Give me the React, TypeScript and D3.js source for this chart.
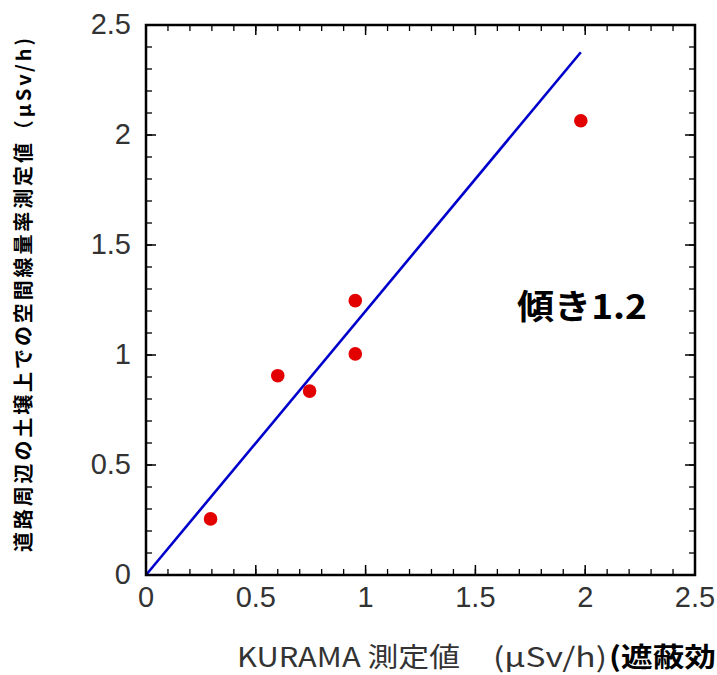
import React from "react";
import * as d3 from "d3";

// KURAMA readings vs. soil-surface dose rates (µSv/h)
const kuramaValues = [0.294, 0.6, 0.745, 0.953, 0.953, 1.98];
const soilValues = [0.255, 0.906, 0.836, 1.247, 1.005, 2.065];
const fitSlope = 1.2;
const fitRange = [0, 1.98];
const majorTicks = [0, 0.5, 1, 1.5, 2, 2.5];
const tickLabels = ["0", "0.5", "1", "1.5", "2", "2.5"];
const minorTicks = d3.range(0, 2.51, 0.1);

const W = 717;
const H = 675;
const left = 146;
const right = 695;
const top = 25;
const bottom = 575;

export default function App() {
  const x = d3.scaleLinear().domain([0, 2.5]).range([left, right]);
  const y = d3.scaleLinear().domain([0, 2.5]).range([bottom, top]);

  const fitLine = d3
    .line<number>()
    .x((d) => x(d))
    .y((d) => y(d * fitSlope));

  const tickFont = "'Liberation Sans', Arial, sans-serif";
  const cjkFont = "'Noto Sans CJK JP', 'Noto Sans', sans-serif";

  return (
    <svg
      width={W}
      height={H}
      style={{ position: "absolute", left: 0, top: 0, background: "#fff" }}
    >
      {/* regression line */}
      <path
        d={fitLine(fitRange) || ""}
        fill="none"
        stroke="#0000cc"
        strokeWidth={2.6}
      />
      {/* data points */}
      {kuramaValues.map((v, i) => (
        <circle key={i} cx={x(v)} cy={y(soilValues[i])} r={6.8} fill="#e30000" />
      ))}

      {/* minor ticks on all four sides */}
      {minorTicks.map((t, i) => (
        <g key={"m" + i} stroke="#000" strokeWidth={1.3}>
          <line x1={x(t)} x2={x(t)} y1={bottom} y2={bottom - 6} />
          <line x1={x(t)} x2={x(t)} y1={top} y2={top + 6} />
          <line x1={left} x2={left + 6} y1={y(t)} y2={y(t)} />
          <line x1={right} x2={right - 6} y1={y(t)} y2={y(t)} />
        </g>
      ))}
      {majorTicks.map((t, i) => (
        <g key={"M" + i} stroke="#000" strokeWidth={1.5}>
          <line x1={x(t)} x2={x(t)} y1={bottom} y2={bottom - 10} />
          <line x1={x(t)} x2={x(t)} y1={top} y2={top + 10} />
          <line x1={left} x2={left + 10} y1={y(t)} y2={y(t)} />
          <line x1={right} x2={right - 10} y1={y(t)} y2={y(t)} />
        </g>
      ))}

      {/* frame */}
      <rect
        x={left}
        y={top}
        width={right - left}
        height={bottom - top}
        fill="none"
        stroke="#000"
        strokeWidth={2.5}
      />

      {/* tick labels */}
      {majorTicks.map((t, i) => (
        <text
          key={"xl" + i}
          x={x(t)}
          y={607}
          textAnchor="middle"
          fontFamily={tickFont}
          fontSize={29}
          fill="#333"
        >
          {tickLabels[i]}
        </text>
      ))}
      {majorTicks.map((t, i) => (
        <text
          key={"yl" + i}
          x={131}
          y={y(t) + 9}
          textAnchor="end"
          fontFamily={tickFont}
          fontSize={29}
          fill="#333"
        >
          {tickLabels[i]}
        </text>
      ))}

      {/* x-axis title */}
      <text
        x={237}
        y={667}
        fontFamily={cjkFont}
        fontSize={27}
        fill="#333"
        textLength={223}
        lengthAdjust="spacingAndGlyphs"
      >
        KURAMA 測定値
      </text>
      <text
        x={493}
        y={667}
        fontFamily={cjkFont}
        fontSize={27}
        fill="#333"
        textLength={114}
        lengthAdjust="spacingAndGlyphs"
      >
        (μSv/h)
      </text>
      <text
        x={609}
        y={667}
        fontFamily={cjkFont}
        fontSize={27}
        fontWeight="bold"
        fill="#000"
        textLength={107}
        lengthAdjust="spacingAndGlyphs"
      >
        (遮蔽効
      </text>

      {/* y-axis title */}
      <text
        transform="translate(31,552) rotate(-90)"
        fontFamily={cjkFont}
        fontSize={20}
        fontWeight="bold"
        fill="#000"
        textLength={514}
        lengthAdjust="spacing"
      >
        道路周辺の土壌上での空間線量率測定値（μSv/h)
      </text>

      {/* slope annotation */}
      <text
        x={517}
        y={319}
        fontFamily={cjkFont}
        fontSize={34}
        fontWeight="bold"
        fill="#000"
        textLength={130}
        lengthAdjust="spacingAndGlyphs"
      >
        傾き1.2
      </text>
    </svg>
  );
}
